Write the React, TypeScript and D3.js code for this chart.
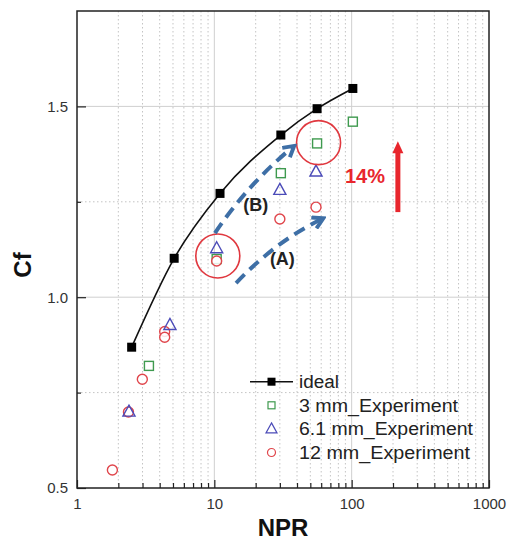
import React, { useEffect, useRef } from 'react';
import * as d3 from 'd3';

// values
const idealNpr = [2.5, 5.1, 11, 30.5, 56, 102];
const idealCf = [0.869, 1.102, 1.272, 1.425, 1.494, 1.547];
const npr3mm = [3.34, 10.4, 30.5, 56, 102];
const cf3mm = [0.82, 1.1, 1.325, 1.403, 1.46];
const npr61mm = [2.39, 4.75, 10.4, 30, 55];
const cf61mm = [0.7, 0.927, 1.128, 1.281, 1.329];
const npr12mm = [1.81, 2.37, 2.99, 4.35, 4.35, 10.4, 30, 55];
const cf12mm = [0.547, 0.699, 0.785, 0.91, 0.895, 1.095, 1.205, 1.236];

const xTickValues = [1, 10, 100, 1000];
const xTickLabels = ['1', '10', '100', '1000'];
const yTickValues = [0.5, 1.0, 1.5];
const yTickLabels = ['0.5', '1.0', '1.5'];
const yMinorValues = [0.75, 1.25];
const legendLabels = ['ideal', '3 mm_Experiment', '6.1 mm_Experiment', '12 mm_Experiment'];

// annotations, in data units [NPR, Cf]
const arrowB = [[10.1, 1.168], [17.6, 1.297], [37.4, 1.394]];
const arrowA = [[14.4, 1.037], [28.1, 1.147], [60.8, 1.205]];
const highlightCircles = [[10.6, 1.108], [57.4, 1.405]];
const gainArrow = [[217, 1.223], [217, 1.409]];

const W = 507;
const H = 549;
const FONT = "'Liberation Sans', Arial, sans-serif";
const GREEN = '#3f9a4f';
const BLUE = '#4b4bb8';
const RED = '#e0454b';
const ARROW_BLUE = '#3e6fa6';

const App = () => {
  const ref = useRef<SVGSVGElement>(null);

  useEffect(() => {
    const svg = d3.select(ref.current);
    svg.selectAll('*').remove();

    const margin = { top: 11, right: 18, bottom: 61, left: 77 };
    const width = W - margin.left - margin.right;
    const height = H - margin.top - margin.bottom;

    const x = d3.scaleLog().domain([1, 1000]).range([0, width]);
    const y = d3.scaleLinear().domain([0.5, 1.75]).range([height, 0]);

    const defs = svg.append('defs');
    defs.append('marker')
      .attr('id', 'chev')
      .attr('viewBox', '0 0 10 10')
      .attr('refX', 7)
      .attr('refY', 5)
      .attr('markerWidth', 15)
      .attr('markerHeight', 15)
      .attr('markerUnits', 'userSpaceOnUse')
      .attr('orient', 'auto')
      .append('path')
      .attr('d', 'M1,1 L8,5 L1,9')
      .attr('fill', 'none')
      .attr('stroke', ARROW_BLUE)
      .attr('stroke-width', 2.6);

    svg.append('rect').attr('width', W).attr('height', H).attr('fill', '#fff');

    const chart = svg.append('g').attr('transform', `translate(${margin.left},${margin.top})`);

    // grid
    const minorX: number[] = [];
    [1, 10, 100].forEach((dec) => {
      for (let k = 2; k <= 9; k++) minorX.push(k * dec);
    });
    chart.selectAll('.gx').data(minorX).enter().append('line')
      .attr('x1', (d) => x(d)).attr('x2', (d) => x(d))
      .attr('y1', 0).attr('y2', height)
      .attr('stroke', '#c4c4c4').attr('stroke-dasharray', '1.5,2.5');
    chart.selectAll('.gy').data(yMinorValues).enter().append('line')
      .attr('x1', 0).attr('x2', width)
      .attr('y1', (d) => y(d)).attr('y2', (d) => y(d))
      .attr('stroke', '#c4c4c4').attr('stroke-dasharray', '1.5,2.5');
    chart.selectAll('.gX').data([10, 100]).enter().append('line')
      .attr('x1', (d) => x(d)).attr('x2', (d) => x(d))
      .attr('y1', 0).attr('y2', height)
      .attr('stroke', '#cfcfcf');
    chart.selectAll('.gY').data([1.0, 1.5]).enter().append('line')
      .attr('x1', 0).attr('x2', width)
      .attr('y1', (d) => y(d)).attr('y2', (d) => y(d))
      .attr('stroke', '#cfcfcf');

    // axes
    const styleAxis = (g: any) => {
      g.select('.domain').remove();
      g.selectAll('line').attr('stroke', '#222').attr('stroke-width', 1.2);
      g.selectAll('text').attr('font-family', FONT).attr('font-size', 15).attr('fill', '#333');
    };
    chart.append('g').attr('transform', `translate(0,${height})`)
      .call(d3.axisBottom(x).tickValues(minorX).tickFormat(() => '').tickSizeInner(-5).tickSizeOuter(0))
      .call(styleAxis);
    chart.append('g').attr('transform', `translate(0,${height})`)
      .call(d3.axisBottom(x).tickValues(xTickValues).tickFormat((d, i) => xTickLabels[i]).tickSizeInner(-8).tickSizeOuter(0).tickPadding(10))
      .call(styleAxis);
    chart.append('g')
      .call(d3.axisLeft(y).tickValues(yMinorValues).tickFormat(() => '').tickSizeInner(-4).tickSizeOuter(0))
      .call(styleAxis);
    chart.append('g')
      .call(d3.axisLeft(y).tickValues(yTickValues).tickFormat((d, i) => yTickLabels[i]).tickSizeInner(-9).tickSizeOuter(0).tickPadding(9))
      .call(styleAxis);

    chart.append('rect').attr('width', width).attr('height', height)
      .attr('fill', 'none').attr('stroke', '#222').attr('stroke-width', 1.5);

    // axis titles
    svg.append('text').attr('x', 283).attr('y', 536)
      .attr('text-anchor', 'middle').attr('font-family', FONT)
      .attr('font-size', 24).attr('font-weight', 'bold').attr('fill', '#111').text('NPR');
    svg.append('text').attr('transform', 'translate(31,265) rotate(-90)')
      .attr('text-anchor', 'middle').attr('font-family', FONT)
      .attr('font-size', 24).attr('font-weight', 'bold').attr('fill', '#111').text('Cf');

    // ideal curve
    const ideal = idealNpr.map((n, i) => [n, idealCf[i]]);
    const line = d3.line<number[]>().x((d) => x(d[0])).y((d) => y(d[1])).curve(d3.curveMonotoneX);
    chart.append('path').datum(ideal).attr('d', line)
      .attr('fill', 'none').attr('stroke', '#111').attr('stroke-width', 1.6);
    chart.selectAll('.ideal').data(ideal).enter().append('rect')
      .attr('x', (d) => x(d[0]) - 4.5).attr('y', (d) => y(d[1]) - 4.5)
      .attr('width', 9).attr('height', 9).attr('fill', '#000');

    // experiments
    const tri = (cx: number, cy: number, s: number) =>
      `M${cx},${cy - s * 0.6} L${cx + s * 0.55},${cy + s * 0.4} L${cx - s * 0.55},${cy + s * 0.4} Z`;

    chart.selectAll('.s3').data(npr3mm.map((n, i) => [n, cf3mm[i]])).enter().append('rect')
      .attr('x', (d) => x(d[0]) - 4.5).attr('y', (d) => y(d[1]) - 4.5)
      .attr('width', 9).attr('height', 9)
      .attr('fill', '#fff').attr('stroke', GREEN).attr('stroke-width', 1.4);
    chart.selectAll('.s12').data(npr12mm.map((n, i) => [n, cf12mm[i]])).enter().append('circle')
      .attr('cx', (d) => x(d[0])).attr('cy', (d) => y(d[1])).attr('r', 5)
      .attr('fill', '#fff').attr('fill-opacity', 0.85).attr('stroke', RED).attr('stroke-width', 1.4);
    chart.selectAll('.s61').data(npr61mm.map((n, i) => [n, cf61mm[i]])).enter().append('path')
      .attr('d', (d) => tri(x(d[0]), y(d[1]), 11))
      .attr('fill', 'none').attr('stroke', BLUE).attr('stroke-width', 1.4);

    // annotations
    chart.selectAll('.hc').data(highlightCircles).enter().append('circle')
      .attr('cx', (d) => x(d[0])).attr('cy', (d) => y(d[1])).attr('r', 22)
      .attr('fill', 'none').attr('stroke', '#e0383f').attr('stroke-width', 1.6);

    const curved = (pts: number[][]) => {
      const p = pts.map((d) => [x(d[0]), y(d[1])]);
      return `M${p[0][0]},${p[0][1]} Q${p[1][0]},${p[1][1]} ${p[2][0]},${p[2][1]}`;
    };
    [arrowB, arrowA].forEach((pts) => {
      chart.append('path').attr('d', curved(pts))
        .attr('fill', 'none').attr('stroke', ARROW_BLUE).attr('stroke-width', 4)
        .attr('stroke-dasharray', '12,7').attr('marker-end', 'url(#chev)');
    });

    const labelText = (t: string, n: number, c: number, size: number, color: string) =>
      chart.append('text').attr('x', x(n)).attr('y', y(c))
        .attr('text-anchor', 'middle').attr('font-family', FONT)
        .attr('font-size', size).attr('font-weight', 'bold').attr('fill', color).text(t);
    labelText('(B)', 20, 1.226, 18, '#222');
    labelText('(A)', 31.3, 1.084, 18, '#222');
    labelText('14%', 125, 1.3, 20, '#e8262d');

    const gx = x(gainArrow[0][0]);
    const gy0 = y(gainArrow[0][1]);
    const gy1 = y(gainArrow[1][1]);
    chart.append('line').attr('x1', gx).attr('x2', gx).attr('y1', gy0).attr('y2', gy1 + 10)
      .attr('stroke', '#e8262d').attr('stroke-width', 5);
    chart.append('path').attr('d', `M${gx},${gy1} L${gx + 5.5},${gy1 + 12} L${gx - 5.5},${gy1 + 12} Z`)
      .attr('fill', '#e8262d');

    // legend
    const legend = svg.append('g').attr('transform', 'translate(250,381.7)');
    const rowH = 23.6;
    const textLen = [40, 159, 174, 171];
    legendLabels.forEach((lab, i) => {
      const row = legend.append('g').attr('transform', `translate(0,${i * rowH})`);
      if (i === 0) {
        row.append('line').attr('x1', 0).attr('x2', 43).attr('stroke', '#111').attr('stroke-width', 1.6);
        row.append('rect').attr('x', 17.5).attr('y', -4).attr('width', 8).attr('height', 8).attr('fill', '#000');
      } else if (i === 1) {
        row.append('rect').attr('x', 18).attr('y', -3.5).attr('width', 7).attr('height', 7)
          .attr('fill', 'none').attr('stroke', GREEN).attr('stroke-width', 1.2);
      } else if (i === 2) {
        row.append('path').attr('d', tri(21.5, 0, 10)).attr('fill', 'none').attr('stroke', BLUE).attr('stroke-width', 1.2);
      } else {
        row.append('circle').attr('cx', 21.5).attr('cy', 0).attr('r', 4)
          .attr('fill', 'none').attr('stroke', RED).attr('stroke-width', 1.2);
      }
      row.append('text').attr('x', 49).attr('y', 6.5)
        .attr('font-family', FONT).attr('font-size', 18).attr('fill', '#222')
        .attr('textLength', textLen[i]).attr('lengthAdjust', 'spacingAndGlyphs')
        .text(lab);
    });
  }, []);

  return (
    <svg
      ref={ref}
      width={W}
      height={H}
      style={{ position: 'absolute', left: 0, top: 0, display: 'block' }}
    />
  );
};

export default App;
